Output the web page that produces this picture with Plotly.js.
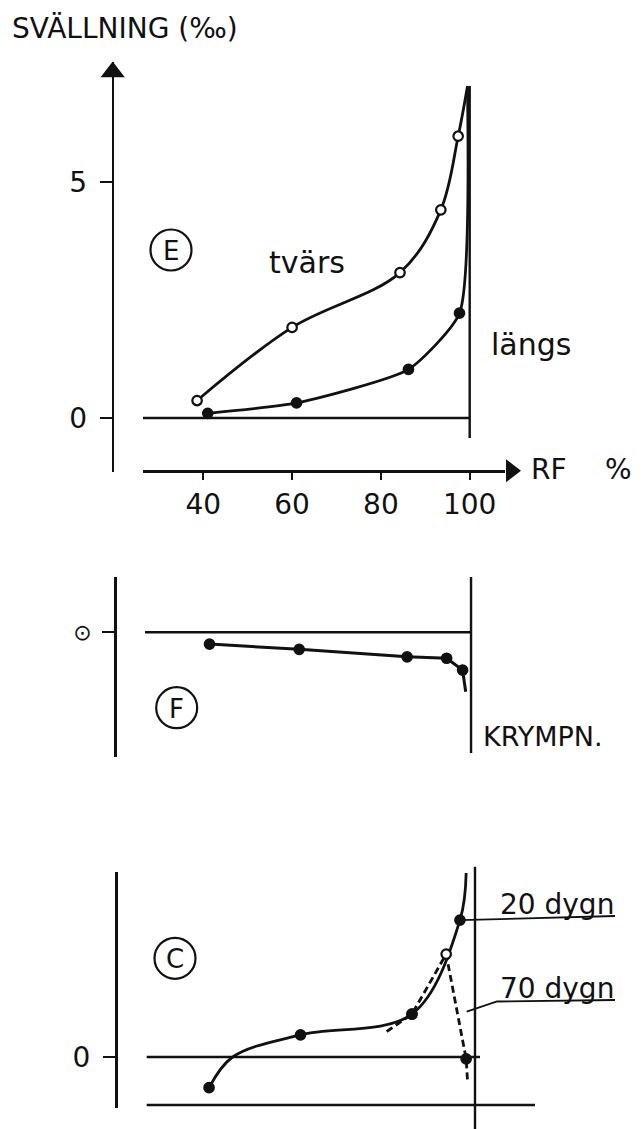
<!DOCTYPE html>
<html>
<head>
<meta charset="utf-8">
<script src="https://cdn.plot.ly/plotly-3.0.1.min.js"></script>
<style>html,body{margin:0;padding:0;background:#fff}#chart{width:644px;height:1129px}</style>
</head>
<body>
<div id="chart"></div>
<script>
// ---------------- data ----------------
// Panel E : swelling (per mille) vs relative humidity RF %
const tvarsRF  = [38.6, 60.0, 84.3, 93.5, 97.4];
const tvarsVal = [0.37, 1.92, 3.08, 4.41, 5.97];
const langsRF  = [41.0, 61.0, 86.2, 97.7];
const langsVal = [0.10, 0.32, 1.03, 2.22];
const apexRF = 99.5, apexVal = 7.03;           // both curves meet at the top

// Panel F : shrinkage
const krympRF  = [41.4, 61.6, 85.9, 94.8, 98.4];
const krympVal = [-0.25, -0.36, -0.52, -0.55, -0.80];
const krympEndRF = 99.1, krympEndVal = -1.26;

// Panel C : 20 dygn (solid) and 70 dygn (dashed)
const d20RF  = [41.3, 61.9, 87.0, 97.8];
const d20Val = [-0.65, 0.47, 0.91, 2.90];
const d20CrossRF = 46.6, d20CrossVal = 0.0;     // where the drawn curve crosses zero
const d20EndRF = 99.2, d20EndVal = 3.90;
const d70RF  = [87.0, 94.7, 99.2];
const d70Val = [0.91, 2.18, -0.04];
const d70Filled = [true, false, true];
const d70StartRF = 81.3, d70StartVal = 0.54;
const d70EndRF = 99.5, d70EndVal = -0.49;

// ticks and labels
const rfTicks = [40, 60, 80, 100];
const eTicks = [0, 5];
const fTicks = [0], fTickText = ['\u2299'];
const cTicks = [0], cTickText = ['0'];
const RF_MAX = 100;
const titleText = 'SVÄLLNING (‰)';
const labelTvars = 'tvärs', labelLangs = 'längs', labelKrymp = 'KRYMPN.';
const label20 = '20 dygn', label70 = '70 dygn';
const xAxisLabel = 'RF', xAxisUnit = '%';
const panelLetters = ['E', 'F', 'C'];

// ---------------- layout geometry ----------------
const W = 644, H = 1129;
const X0PX = 203.3, XPXPERUNIT = 4.44;           // RF 40 at 203.3 px
const rfAtPx = px => 40 + (px - X0PX) / XPXPERUNIT;
const YPX = 47.2;                                 // px per unit of swelling
const px2paperY = py => 1 - py / H;
const px2paperX = px => px / W;
const BLACK = '#111';
function yAx(topPx, botPx, zeroPx, xpx, extra) {
  return Object.assign({
    domain: [px2paperY(botPx), px2paperY(topPx)],
    range: [(zeroPx - botPx) / YPX, (zeroPx - topPx) / YPX],
    anchor: 'free', position: px2paperX(xpx),
    showline: true, linecolor: BLACK, linewidth: 2.6,
    showgrid: false, zeroline: false,
    ticks: 'outside', ticklen: 12, tickwidth: 2.2, tickcolor: BLACK,
    tickmode: 'array', ticklabelstandoff: 7,
    tickfont: {size: 28, color: BLACK}
  }, extra);
}
const E = {top: 62, bot: 472, zero: 418, xpx: 112.7};
const F = {top: 577, bot: 757, zero: 632.3, xpx: 115};
const C = {top: 871.7, bot: 1108, zero: 1057, xpx: 116};
const valE = py => (E.zero - py) / YPX;
const valC = py => (C.zero - py) / YPX;

const traces = [];
function curve(x, y, ax, line) {
  traces.push({x, y, xaxis: 'x', yaxis: ax, mode: 'lines', hoverinfo: 'skip',
    showlegend: false, cliponaxis: false, line: Object.assign({color: BLACK, width: 2.8}, line)});
}
function pts(x, y, ax, filled) {
  traces.push({x, y, xaxis: 'x', yaxis: ax, mode: 'markers', hoverinfo: 'skip', showlegend: false,
    cliponaxis: false,
    marker: {size: 9.5, color: filled.map(f => f ? BLACK : '#fff'), line: {color: BLACK, width: 2.2}}});
}

// E
curve(tvarsRF.concat([apexRF]), tvarsVal.concat([apexVal]), 'y', {shape: 'spline', smoothing: 1});
curve(langsRF.concat([apexRF]), langsVal.concat([apexVal]), 'y', {shape: 'spline', smoothing: 0.55});
pts(tvarsRF, tvarsVal, 'y', tvarsRF.map(() => false));
pts(langsRF, langsVal, 'y', langsRF.map(() => true));
// F
curve(krympRF.concat([krympEndRF]), krympVal.concat([krympEndVal]), 'y2', {width: 3});
pts(krympRF, krympVal, 'y2', krympRF.map(() => true));
// C
curve([d20RF[0], d20CrossRF].concat(d20RF.slice(1), [d20EndRF]),
      [d20Val[0], d20CrossVal].concat(d20Val.slice(1), [d20EndVal]), 'y3', {shape: 'spline', smoothing: 1});
curve([d70StartRF].concat(d70RF, [d70EndRF]), [d70StartVal].concat(d70Val, [d70EndVal]), 'y3', {dash: '7px,4px'});
// label callouts (leaders running into the underline of each label)
curve([d20RF[3], rfAtPx(615)], [d20Val[3], valC(916)], 'y3', {width: 1.8});
curve([rfAtPx(466.7), rfAtPx(497), rfAtPx(615)], [valC(1011.7), valC(1001.5), valC(1000)], 'y3', {width: 1.8});
pts(d20RF, d20Val, 'y3', d20RF.map(() => true));
pts(d70RF, d70Val, 'y3', d70Filled);

// axis arrow heads
traces.push({x: [rfAtPx(E.xpx)], y: [valE(72)], xaxis: 'x', yaxis: 'y', mode: 'markers', hoverinfo: 'skip', showlegend: false, cliponaxis: false,
  marker: {symbol: 'triangle-up', size: 21, color: BLACK}});
traces.push({x: [rfAtPx(511)], y: [valE(470.7)], xaxis: 'x', yaxis: 'y', mode: 'markers', hoverinfo: 'skip', showlegend: false, cliponaxis: false,
  marker: {symbol: 'triangle-right', size: 20, color: BLACK}});
// dummy trace to bind the visible RF axis
traces.push({x: [null], y: [null], xaxis: 'x2', yaxis: 'y', mode: 'markers', hoverinfo: 'skip', showlegend: false});

const shapes = [];
function hline(ax, y, x0, x1, w) { shapes.push({type: 'line', xref: 'x', yref: ax, x0, x1, y0: y, y1: y, line: {color: BLACK, width: w || 2.4}}); }
function vline(ax, x, y0, y1, w) { shapes.push({type: 'line', xref: 'x', yref: ax, x0: x, x1: x, y0, y1, line: {color: BLACK, width: w || 2.4}}); }
// E reference lines
hline('y', 0, rfAtPx(143), RF_MAX);
vline('y', RF_MAX, valE(438), valE(86));
// F reference lines
hline('y2', 0, rfAtPx(145), RF_MAX + 0.3);
vline('y2', RF_MAX + 0.3, (F.zero - 753) / YPX, (F.zero - 575) / YPX);
// C reference lines
hline('y3', 0, rfAtPx(146.7), rfAtPx(480));
hline('y3', valC(1105), rfAtPx(146.7), rfAtPx(535));
shapes.push({type: 'line', xref: 'x', yref: 'paper', x0: rfAtPx(475), x1: rfAtPx(475), y0: 0, y1: px2paperY(866.7), line: {color: BLACK, width: 2.4}});
// panel letter circles
const letterPos = [[171, 250], [176.7, 707.7], [175, 958.3]];
const R = 20.5;
letterPos.forEach(([cx, cy]) => shapes.push({type: 'circle', xref: 'paper', yref: 'paper',
  x0: px2paperX(cx - R), x1: px2paperX(cx + R), y0: px2paperY(cy + R), y1: px2paperY(cy - R),
  line: {color: BLACK, width: 2.2}}));

function ann(text, px, py, size, xanchor) {
  return {text, xref: 'paper', yref: 'paper', x: px2paperX(px), y: px2paperY(py), showarrow: false,
    xanchor: xanchor || 'center', yanchor: 'middle', font: {size, color: BLACK}};
}
const annotations = [
  ann(labelTvars, 307, 262, 30),
  ann(labelLangs, 531, 344, 30),
  ann(xAxisLabel, 529, 470, 28, 'left'),
  ann(xAxisUnit, 618, 470, 28),
  ann(labelKrymp, 481, 736, 27, 'left'),
  ann(label20, 557, 904, 28),
  ann(label70, 557, 988, 28)
].concat(panelLetters.map((l, i) => ann(l, letterPos[i][0], letterPos[i][1] + 1, 26)));

const layout = {
  width: W, height: H,
  margin: {l: 0, r: 0, t: 0, b: 0, pad: 0},
  paper_bgcolor: '#fff', plot_bgcolor: 'rgba(0,0,0,0)',
  font: {family: 'DejaVu Sans, sans-serif', color: BLACK},
  showlegend: false, hovermode: false,
  title: {text: titleText, x: px2paperX(12), xanchor: 'left', y: px2paperY(28), yanchor: 'middle',
    font: {size: 28, color: BLACK}},
  xaxis: {domain: [0, 1], range: [rfAtPx(0), rfAtPx(W)], visible: false, anchor: 'y'},
  xaxis2: {domain: [px2paperX(143), px2paperX(505)], range: [rfAtPx(143), rfAtPx(505)],
    anchor: 'free', position: px2paperY(470.7),
    showline: true, linecolor: BLACK, linewidth: 2.8, showgrid: false, zeroline: false,
    ticks: 'outside', ticklen: 7, tickwidth: 2.2, tickcolor: BLACK,
    tickmode: 'array', tickvals: rfTicks, ticktext: rfTicks.map(String),
    ticklabelstandoff: 1, tickfont: {size: 28, color: BLACK}},
  yaxis: yAx(E.top, E.bot, E.zero, E.xpx, {tickvals: eTicks, ticktext: eTicks.map(String)}),
  yaxis2: yAx(F.top, F.bot, F.zero, F.xpx, {tickvals: fTicks, ticktext: fTickText, ticklabelstandoff: 6, tickfont: {size: 22, color: BLACK}}),
  yaxis3: yAx(C.top, C.bot, C.zero, C.xpx, {tickvals: cTicks, ticktext: cTickText}),
  shapes, annotations
};
Plotly.newPlot('chart', traces, layout, {staticPlot: true, displayModeBar: false});
</script>
</body>
</html>
